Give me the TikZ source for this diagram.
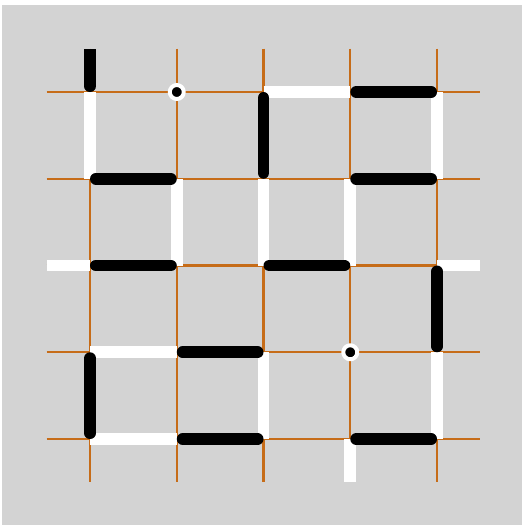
\documentclass[tikz,border=0pt]{standalone}
\definecolor{gridorange}{RGB}{198,108,24}
\definecolor{boardgray}{RGB}{211,211,211}
\begin{document}
\begin{tikzpicture}[
    line cap=round,line join=round,
    grid/.style={draw=gridorange,line width=0.7pt,line cap=butt},
    off/.style={draw=white,line width=3.9pt,line cap=butt},
    on/.style={draw=black,line width=3.9pt,shorten <=1.95pt,shorten >=1.95pt},
    dot/.style={circle,fill=black,draw=white,line width=1.3pt,inner sep=0pt,minimum size=4.6pt}
]
    \useasboundingbox (-1.0375,-4.991) rectangle (4.98,1.0605);
    \fill[boardgray] (-1.009,-4.991) rectangle (4.98,1.003);
    % grid points and loose ends
    \foreach \i in {0,...,4}
        \foreach \j in {0,...,4}
            \coordinate (p\i\j) at (\i,-\j);
    \coordinate (top0) at (0,0.5);
    \coordinate (left2) at (-0.5,-2);
    \coordinate (right2) at (4.5,-2);
    \coordinate (bot3) at (3,-4.5);
    \foreach \i in {0,...,4} {
        \draw[grid] (\i,0.5) -- (\i,-4.5);
        \draw[grid] (-0.5,-\i) -- (4.5,-\i);
    }
    \begin{scope}
        \clip (-0.5,-4.5) rectangle (4.5,0.49);
        % white edges
        \foreach \a/\b in {p00/p01,p11/p12,p20/p30,p40/p41,p21/p22,p31/p32,
            left2/p02,p42/right2,p03/p13,p23/p24,p04/p14,p43/p44,p34/bot3}
            \draw[off] (\a) -- (\b);
        % black edges
        \draw[on,shorten <=0pt] (top0) -- (p00);
        \foreach \a/\b in {p01/p11,p20/p21,p30/p40,p31/p41,p02/p12,
            p22/p32,p42/p43,p03/p04,p13/p23,p14/p24,p34/p44}
            \draw[on] (\a) -- (\b);
    \end{scope}
    \node[dot] (d1) at (p10) {};
    \node[dot] (d2) at (p33) {};
\end{tikzpicture}
\end{document}
